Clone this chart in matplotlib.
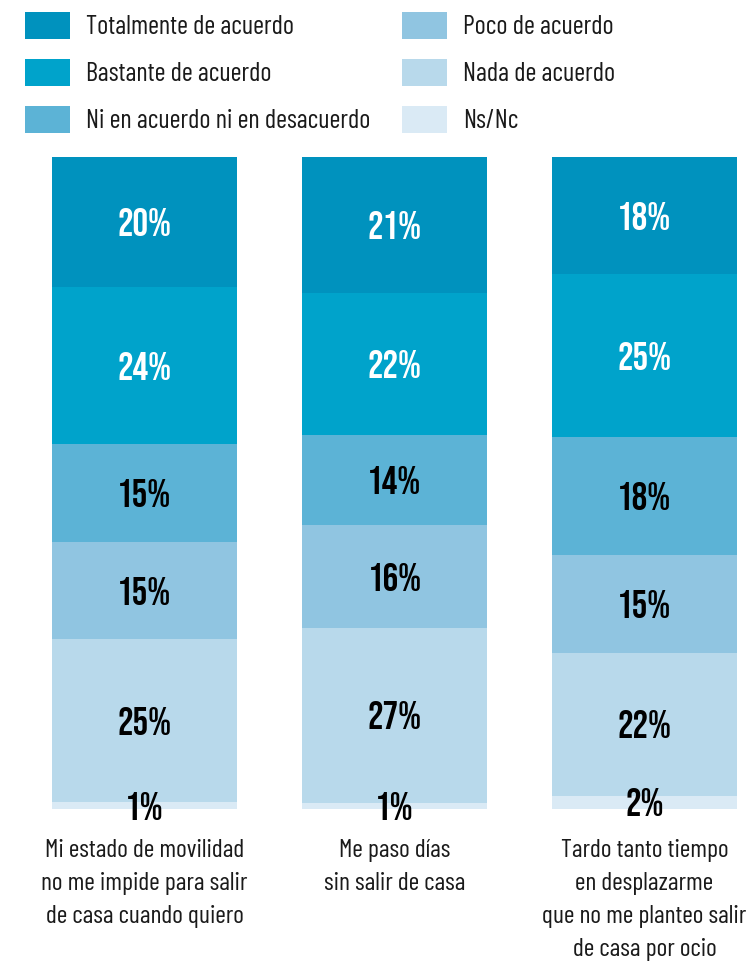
import matplotlib
matplotlib.use("Agg")
import matplotlib.pyplot as plt
import numpy as np

# Survey answers, one list per response level (top of the stack first)
statements = [
    "Mi estado de movilidad\nno me impide para salir\nde casa cuando quiero",
    "Me paso días\nsin salir de casa",
    "Tardo tanto tiempo\nen desplazarme\nque no me planteo salir\nde casa por ocio",
]
levels = [
    "Totalmente de acuerdo",
    "Bastante de acuerdo",
    "Ni en acuerdo ni en desacuerdo",
    "Poco de acuerdo",
    "Nada de acuerdo",
    "Ns/Nc",
]
totalmente = [20, 21, 18]
bastante = [24, 22, 25]
ni_ni = [15, 14, 18]
poco = [15, 16, 15]
nada = [25, 27, 22]
ns_nc = [1, 1, 2]

series = [totalmente, bastante, ni_ni, poco, nada, ns_nc]
colors = ["#0092BE", "#00A3CB", "#5CB3D6", "#90C5E1", "#B8D9EB", "#DAEAF5"]
label_colors = ["white", "white", "black", "black", "black", "black"]

TEXT_FONT = ["Barlow Condensed", "DejaVu Sans"]
NUM_FONT = ["Bebas Neue", "DejaVu Sans"]

W, H = 751, 965
fig = plt.figure(figsize=(W / 100, H / 100), dpi=100)

# Axes spans the full width; bars are 250 px apart, 185 px wide
bar_top, bar_bottom = 157, 809
ax = fig.add_axes([0, (H - bar_bottom) / H, 1, (bar_bottom - bar_top) / H])
x = np.arange(len(statements))
ax.set_xlim((0 - 144.5) / 250, (W - 144.5) / 250)
ax.set_ylim(0, 100)
ax.axis("off")

values = np.array(series, dtype=float)
totals = values.sum(axis=0)
shares = values / totals * 100  # each column fills the full height

# Stack from the bottom (Ns/Nc) up to "Totalmente"
bottom = np.zeros(len(statements))
bars = {}
for i in range(len(levels) - 1, -1, -1):
    b = ax.bar(x, shares[i], width=0.74, bottom=bottom, color=colors[i],
               edgecolor="none", label=levels[i])
    bars[i] = b
    for j in range(len(statements)):
        ax.text(x[j], bottom[j] + shares[i][j] / 2, f"{series[i][j]}%",
                ha="center", va="center", color=label_colors[i],
                fontsize=28, family=NUM_FONT)
    bottom += shares[i]

# Statement captions under each column
for j, s in enumerate(statements):
    px = 144.5 + 250 * j
    fig.text(px / W, 1 - 839 / H, s, ha="center", va="top", fontsize=18.5,
             family=TEXT_FONT, color="#1a1a1a", linespacing=1.55)

# Legend in two columns above the chart
handles = [bars[i] for i in range(len(levels))]
fig.legend(handles, levels, loc="upper left", bbox_to_anchor=(25 / W, 1 - 12 / H),
           ncol=2, frameon=False, handlelength=1.7, handleheight=1.2,
           handletextpad=0.6, labelspacing=0.74, columnspacing=1.22,
           borderpad=0, borderaxespad=0, labelcolor="#1a1a1a",
           prop={"family": TEXT_FONT, "size": 19})

fig.savefig("out.png", dpi=100)
